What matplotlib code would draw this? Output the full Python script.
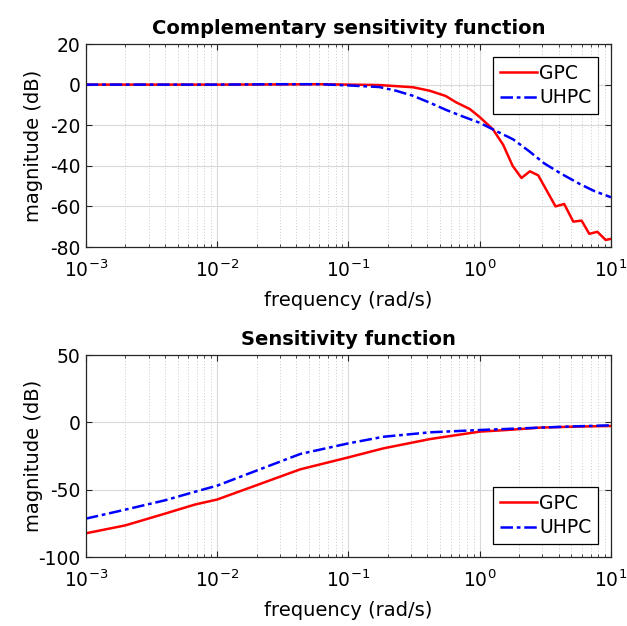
import numpy as np
import matplotlib
matplotlib.use('Agg')
import matplotlib.pyplot as plt
from matplotlib.ticker import LogLocator, LogFormatterMathtext, NullFormatter

plt.rcParams['font.family'] = ['DejaVu Sans']
plt.rcParams['mathtext.fontset'] = 'dejavusans'
plt.rcParams['mathtext.default'] = 'regular'
plt.rcParams['axes.unicode_minus'] = False

# complementary sensitivity
f_T_gpc = [0.001, 0.01, 0.03, 0.06, 0.1, 0.17, 0.31, 0.415, 0.55, 0.664, 0.839, 1.0, 1.26,
           1.51, 1.78, 2.08, 2.41, 2.79, 3.78, 4.4, 5.16, 5.97, 6.83, 7.87, 9.1, 10]
T_gpc = [0, 0, 0.1, 0.2, 0, -0.2, -1.3, -3, -5.6, -8.8, -12, -16, -22,
         -29.7, -40, -46, -42.7, -44.7, -60, -58.8, -67.5, -67, -73.5, -72.5, -76.5, -76]
f_T_uhpc = [0.001, 0.01, 0.03, 0.06, 0.1, 0.172, 0.23, 0.31, 0.42, 0.556, 0.75, 1.0, 1.3,
            1.8, 2.4, 3.1, 4.2, 5.8, 7.5, 10]
T_uhpc = [0, 0, 0.2, 0.2, -0.4, -1.2, -3, -5.5, -9, -12.5, -15.8, -18.8, -22.5,
          -27, -33, -38.8, -44, -49, -52.5, -55.5]

# sensitivity
f_S_gpc = [0.001, 0.002, 0.004, 0.0068, 0.01, 0.0233, 0.0429, 0.1, 0.185, 0.419,
           1.0, 1.61, 2.9, 5.2, 10]
S_gpc = [-82.4, -76.5, -67.8, -61, -57.3, -44.3, -34.9, -26, -19.3, -12.4,
         -6.9, -5.7, -3.9, -3.2, -2.7]
f_S_uhpc = [0.001, 0.002, 0.004, 0.0068, 0.01, 0.021, 0.0429, 0.1, 0.185, 0.419,
            1.0, 1.61, 2.9, 5.2, 10]
S_uhpc = [-71.5, -64.8, -57.9, -51.5, -47, -35, -23.5, -15.6, -10.7, -7.4,
          -5.7, -4.9, -3.9, -3.0, -2.2]

axcol = (0.15, 0.15, 0.15)
fig = plt.figure(figsize=(6.27, 6.26), dpi=100)
ax1 = fig.add_axes([0.137, 0.6054, 0.8375, 0.3243])
ax2 = fig.add_axes([0.137, 0.1102, 0.8375, 0.3227])

def style(ax, ylim, yticks, title, legloc):
    ax.set_xscale('log')
    ax.set_xlim(1e-3, 10)
    ax.set_ylim(*ylim)
    ax.set_yticks(yticks)
    ax.xaxis.set_major_locator(LogLocator(base=10, numticks=10))
    ax.xaxis.set_major_formatter(LogFormatterMathtext())
    ax.xaxis.set_minor_locator(LogLocator(base=10, subs=np.arange(2, 10), numticks=20))
    ax.xaxis.set_minor_formatter(NullFormatter())
    ax.grid(True, which='major', color=(0.85, 0.85, 0.85), lw=0.8)
    ax.grid(True, which='minor', axis='x', color=(0.8, 0.8, 0.8), lw=0.7, ls=(0, (1, 2)))
    ax.set_axisbelow(True)
    ax.tick_params(which='both', direction='in', top=True, right=True, colors=axcol,
                   labelcolor='black', labelsize=13.5)
    ax.tick_params(axis='x', which='major', length=4, pad=9)
    ax.tick_params(axis='y', which='major', length=4, pad=4)
    ax.tick_params(which='minor', length=2)
    for s in ax.spines.values():
        s.set_color(axcol)
        s.set_linewidth(0.9)
    ax.set_xlabel('frequency (rad/s)', fontsize=14, va='top')
    ax.set_ylabel('magnitude (dB)', fontsize=14)
    ax.xaxis.set_label_coords(0.5, -0.218)
    ax.yaxis.set_label_coords(-0.082, 0.5)
    ax.set_title(title, fontsize=14, fontweight='bold', pad=7)
    leg = ax.legend(loc=legloc, fontsize=13.5, fancybox=False, framealpha=1,
                    edgecolor='black', handlelength=2.0, borderpad=0.35,
                    labelspacing=0.3, handletextpad=0.1, borderaxespad=0.7)
    leg.get_frame().set_linewidth(0.9)

ax1.plot(f_T_gpc, T_gpc, color='red', lw=1.8, label='GPC')
ax1.plot(f_T_uhpc, T_uhpc, color='blue', lw=1.8, ls=(0, (5, 1.5, 1.5, 1.5)), label='UHPC')
style(ax1, (-80, 20), [-80, -60, -40, -20, 0, 20], 'Complementary sensitivity function', 'upper right')

ax2.plot(f_S_gpc, S_gpc, color='red', lw=1.8, label='GPC')
ax2.plot(f_S_uhpc, S_uhpc, color='blue', lw=1.8, ls=(0, (5, 1.5, 1.5, 1.5)), label='UHPC')
style(ax2, (-100, 50), [-100, -50, 0, 50], 'Sensitivity function', 'lower right')

fig.savefig('out.png', dpi=100)
